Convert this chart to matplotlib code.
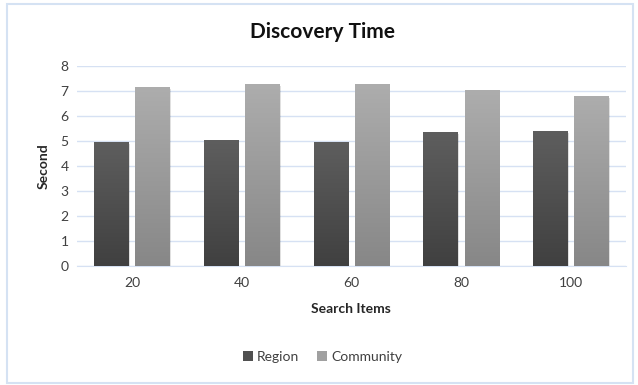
import matplotlib
matplotlib.use("Agg")
import matplotlib.pyplot as plt
import numpy as np
from matplotlib.patches import Rectangle
from matplotlib.colors import LinearSegmentedColormap

categories = ["20", "40", "60", "80", "100"]
region = [4.93, 5.0, 4.93, 5.33, 5.37]
community = [7.13, 7.25, 7.25, 7.0, 6.76]
yticks = [0, 1, 2, 3, 4, 5, 6, 7, 8]

plt.rcParams['font.family'] = ['Lato', 'DejaVu Sans']

fig = plt.figure(figsize=(6.38, 3.85), dpi=100)
fig.patches.append(Rectangle((6.5 / 638, 2.5 / 385), 626 / 638, 379 / 385, transform=fig.transFigure,
                             fill=False, edgecolor='#d5e2f3', linewidth=1.5))
ax = fig.add_axes([0.1207, 0.309, 0.860, 0.5195])

x = np.arange(len(categories))
w = 0.31
gap = 0.065
off = (w + gap) / 2

cm_region = LinearSegmentedColormap.from_list('r', ['#404040', '#5e5e5e'])
cm_comm = LinearSegmentedColormap.from_list('c', ['#878787', '#adadad'])

def grad_bars(xs, vals, cmap, label, legcol):
    bars = ax.bar(xs, vals, width=w, color=legcol, label=label, zorder=3,
                  edgecolor='none')
    grad = np.linspace(0, 1, 256).reshape(-1, 1)
    for b in bars:
        x0, y0 = b.get_x(), b.get_y()
        bw, bh = b.get_width(), b.get_height()
        ax.add_patch(Rectangle((x0 + 0.012, y0), bw, bh - 0.03, facecolor='#000000',
                               alpha=0.12, zorder=2, edgecolor='none'))
        ax.imshow(grad, cmap=cmap, origin='lower', aspect='auto',
                  extent=(x0, x0 + bw, y0, y0 + bh), zorder=4)
    return bars

grad_bars(x - off, region, cm_region, 'Region', '#505050')
grad_bars(x + off, community, cm_comm, 'Community', '#a0a0a0')

ax.set_xlim(-0.5, len(categories) - 0.5)
ax.set_ylim(0, 8)
ax.set_yticks(yticks)
ax.set_xticks(x)
ax.set_xticklabels(categories)
ax.grid(axis='y', color='#d6e1f3', linewidth=1, zorder=0)
for s in ['top', 'right', 'left']:
    ax.spines[s].set_visible(False)
ax.spines['bottom'].set_color('#d6e1f3')
ax.tick_params(axis='both', length=0, labelsize=10, colors='#404040', pad=6)
ax.tick_params(axis='x', pad=8)

ax.set_xlabel('Search Items', fontsize=10, fontweight='bold', color='#262626', labelpad=10)
ax.set_ylabel('Second', fontsize=10, fontweight='bold', color='#262626', labelpad=8)

fig.text(0.506, 0.917, 'Discovery Time', ha='center', va='center', fontsize=15,
         fontweight='bold', color='#111111')

leg = fig.legend(loc='center', bbox_to_anchor=(0.506, 0.073), ncol=2, frameon=False,
                 fontsize=10, handlelength=0.7, handleheight=0.7, handletextpad=0.3,
                 columnspacing=1.3)
for t in leg.get_texts():
    t.set_color('#404040')

fig.savefig('out.png', dpi=100)
